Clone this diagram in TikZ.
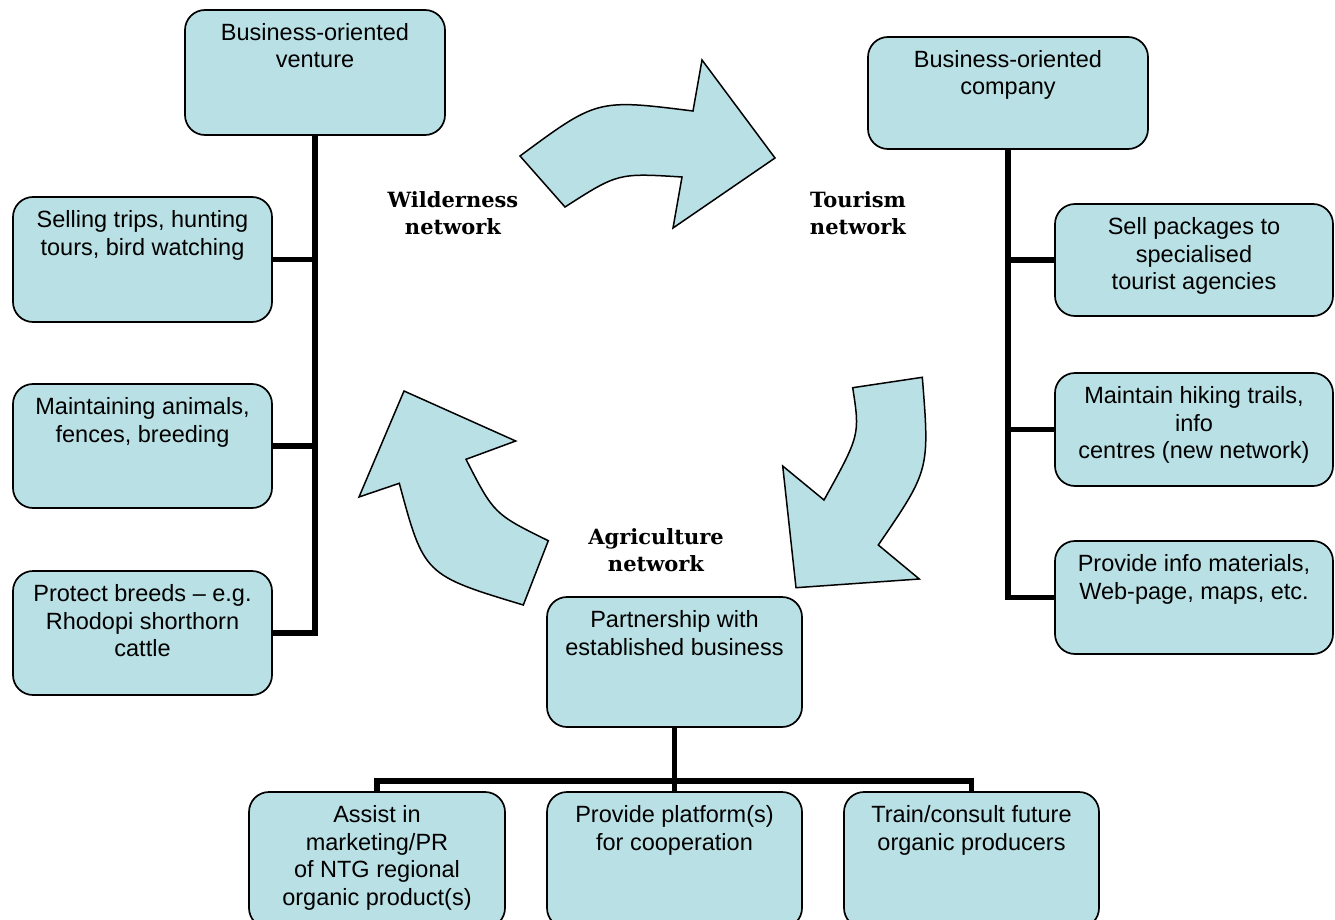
\documentclass[tikz,border=0pt]{standalone}
\usepackage{fontspec}
\setmainfont{Liberation Sans}
\newfontfamily\lblfont{DejaVu Serif}
\definecolor{boxfill}{RGB}{185,224,228}
\newcommand\boxtext[3]{\parbox[c][#2][t]{#1}{\centering\fontsize{23.5}{27.5}\selectfont\rule{0pt}{30.5pt}#3\par}}
\begin{document}
\begin{tikzpicture}[x=1pt,y=-1pt,
  box/.style={draw=black, line width=1.7pt, fill=boxfill, rounded corners=20pt, inner sep=0pt},
  conn/.style={draw=black, line width=5.5pt},
  blockarrow/.style={draw=black, line width=1.5pt, fill=boxfill, line join=miter},
  lbl/.style={font=\lblfont\bfseries\fontsize{21}{27}\selectfont, align=center, inner sep=0pt, anchor=north}]
\useasboundingbox (0,0) rectangle (1335,920);
\clip (0,0) rectangle (1335,920);

% curved block arrows
\path[blockarrow] (520,156) .. controls (597,99) .. (693,111) -- (702,60) -- (775,158) -- (673,228) -- (682,177) .. controls (618,173) .. (565,207) -- cycle;
\path[blockarrow] (852.7,387.7) -- (922.3,377.3) .. controls (929.7,470) .. (878.3,545) -- (919.3,579) -- (796,587.7) -- (782.7,466) -- (824,500) .. controls (860,435) .. (852.7,387.7) -- cycle;
\path[blockarrow] (523.3,605) -- (548.3,540.7) .. controls (494,514) .. (466,459.3) -- (515.7,441) -- (404,391) -- (359,497) -- (399.3,483.3) .. controls (424,575) .. (523.3,605) -- cycle;

% labels
\node[lbl] (wild) at (453,191) {Wilderness\\network};
\node[lbl] (tour) at (858,191) {Tourism\\network};
\node[lbl] (agri) at (656,528) {Agriculture\\network};

% left tree
\node[box] (venture) at (315,72.5) {\boxtext{260pt}{125pt}{Business-oriented\\venture}};
\node[box] (selling) at (142.5,259.5) {\boxtext{259pt}{125pt}{Selling trips, hunting\\tours, bird watching}};
\node[box] (maintaining) at (142.5,446) {\boxtext{259pt}{124pt}{Maintaining animals,\\fences, breeding}};
\node[box] (protect) at (142.5,633) {\boxtext{259pt}{124pt}{Protect breeds -- e.g.\\Rhodopi shorthorn\\cattle}};

% right tree
\node[box] (company) at (1008,93) {\boxtext{280pt}{112pt}{Business-oriented\\company}};
\node[box] (sell) at (1194,260) {\boxtext{278pt}{112pt}{Sell packages to\\specialised\\tourist agencies}};
\node[box] (hiking) at (1194,429.5) {\boxtext{278pt}{113pt}{Maintain hiking trails,\\info\\centres (new network)}};
\node[box] (info) at (1194,597.5) {\boxtext{278pt}{113pt}{Provide info materials,\\Web-page, maps, etc.}};

% bottom tree
\node[box] (partner) at (674.5,662) {\boxtext{255pt}{130pt}{Partnership with\\established business}};
\node[box] (assist) at (377,860) {\boxtext{256pt}{136pt}{Assist in\\marketing/PR\\of NTG regional\\organic product(s)}};
\node[box] (platform) at (674.5,860) {\boxtext{255pt}{136pt}{Provide platform(s)\\for cooperation}};
\node[box] (train) at (971.5,860) {\boxtext{255pt}{136pt}{Train/consult future\\organic producers}};
\coordinate (bus) at (674.5,781);

% connectors
\draw[conn] (venture.south) |- (protect.east);
\draw[conn] (venture.south |- selling.east) -- (selling.east);
\draw[conn] (venture.south |- maintaining.east) -- (maintaining.east);
\draw[conn] (company.south) |- (info.west);
\draw[conn] (company.south |- sell.west) -- (sell.west);
\draw[conn] (company.south |- hiking.west) -- (hiking.west);
\draw[conn] (partner.south) -- (bus);
\draw[conn] (assist.north) -- (assist.north |- bus) -- (train.north |- bus) -- (train.north);
\draw[conn] (platform.north) -- (platform.north |- bus);
\end{tikzpicture}
\end{document}
